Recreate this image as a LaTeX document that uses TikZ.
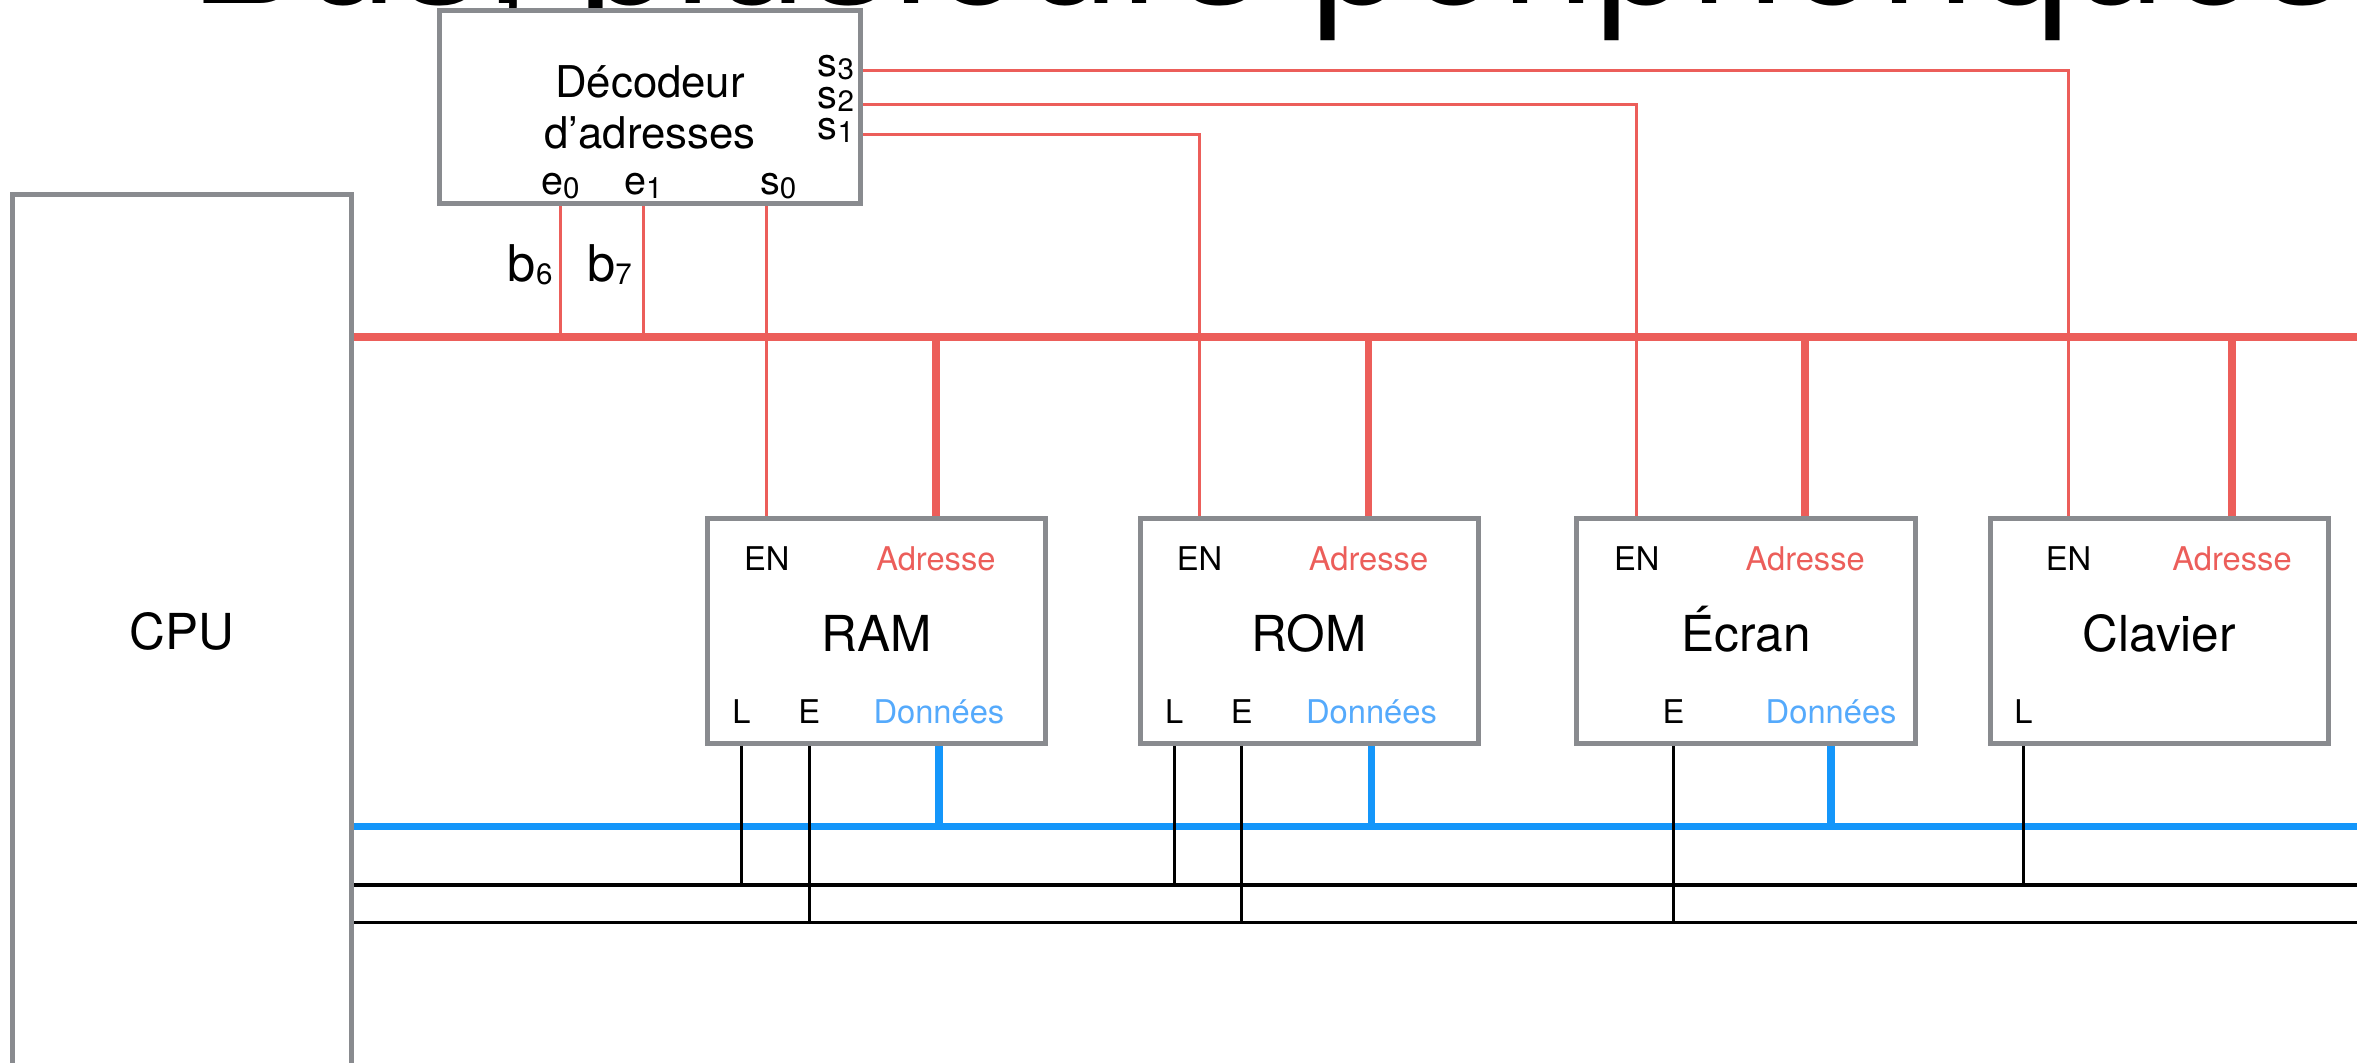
\documentclass[tikz,border=0pt]{standalone}
\usepackage{fontspec}
\setmainfont{TeX Gyre Heros}
\usetikzlibrary{calc,positioning}
\definecolor{boxgray}{RGB}{137,139,143}
\definecolor{busred}{RGB}{236,94,90}
\definecolor{busblue}{RGB}{20,150,250}
\definecolor{txtblue}{RGB}{85,170,252}
\newcommand{\ix}[1]{\raisebox{-0.6pt}{\fontsize{5.6}{6}\selectfont#1}}
\tikzset{
	frame/.style={draw=boxgray, fill=white, line width=0.95pt, inner sep=0pt},
	periph/.style={frame, minimum width=2.257cm, minimum height=1.496cm,
		text height=7.7pt, text depth=0pt, font=\fontsize{9.4}{11}\selectfont},
	cpubox/.style={frame, minimum width=2.26cm, minimum height=5.82cm,
		text height=6.8pt, text depth=0pt, font=\fontsize{9.4}{11}\selectfont},
	deco/.style={frame, minimum width=2.809cm, minimum height=1.289cm, align=center,
		font=\fontsize{8.3}{9.8}\selectfont},
	small/.style={inner sep=0pt, anchor=base, font=\fontsize{6.2}{7}\selectfont},
	io/.style={inner sep=0pt, text height=4pt, text depth=1pt, font=\fontsize{7.5}{8}\selectfont},
	bit/.style={inner sep=0pt, anchor=base east, font=\fontsize{9.6}{11}\selectfont},
	title/.style={inner sep=0pt, anchor=base west, font=\fontsize{32.4}{38}\selectfont},
	addr/.style={draw=busred, line width=1.5pt},
	data/.style={draw=busblue, line width=1.5pt},
	sel/.style={draw=busred, line width=0.55pt},
	ctrl/.style={draw=black, line width=0.6pt},
}

\begin{document}
\begin{tikzpicture}
	\useasboundingbox (0,0) rectangle (15.713,7.08);
	\clip (0,0) rectangle (15.713,7.08);

	% title, cut by the top edge
	\node[title] (title) at (1.26,7.058) {Bus, plusieurs périphériques};

	% boxes
	\node[cpubox] (cpu) at (1.214,2.87) {CPU};
	\node[deco] (dec) at (4.3335,6.3645) {Décodeur\\d’adresses};
	\node[periph] (ram) at (5.8445,2.872) {RAM};
	\node[periph] (rom) at (8.7285,2.872) {ROM};
	\node[periph] (ecran) at (11.6395,2.872) {Écran};
	\node[periph] (clavier) at (14.395,2.872) {Clavier};

	% decoder pins
	\node[io, anchor=base] (e0) at (3.736,5.78) {e\ix{0}};
	\node[io, anchor=base] (e1) at (4.288,5.78) {e\ix{1}};
	\node[io, anchor=base] (s0) at (5.188,5.78) {s\ix{0}};
	\node[io, anchor=base east] (s3) at (5.70,6.568) {s\ix{3}};
	\node[io, anchor=base east] (s2) at (5.70,6.358) {s\ix{2}};
	\node[io, anchor=base east] (s1) at (5.70,6.150) {s\ix{1}};
	\node[bit] (b6) at (3.69,5.202) {b\ix{6}};
	\node[bit] (b7) at (4.218,5.202) {b\ix{7}};

	% RAM pins
	\node[small] (ram-en) at ($(ram.north west)+(0.413,-0.358)$) {EN};
	\node[small, text=busred] (ram-adr) at ($(ram.north west)+(1.54,-0.358)$) {Adresse};
	\node[small] (ram-l) at ($(ram.south west)+(0.244,0.152)$) {L};
	\node[small] (ram-e) at ($(ram.south west)+(0.695,0.152)$) {E};
	\node[small, text=txtblue] (ram-d) at ($(ram.south west)+(1.56,0.152)$) {Données};

	% ROM pins
	\node[small] (rom-en) at ($(rom.north west)+(0.413,-0.358)$) {EN};
	\node[small, text=busred] (rom-adr) at ($(rom.north west)+(1.54,-0.358)$) {Adresse};
	\node[small] (rom-l) at ($(rom.south west)+(0.244,0.152)$) {L};
	\node[small] (rom-e) at ($(rom.south west)+(0.695,0.152)$) {E};
	\node[small, text=txtblue] (rom-d) at ($(rom.south west)+(1.56,0.152)$) {Données};

	% Ecran pins
	\node[small] (ecran-en) at ($(ecran.north west)+(0.418,-0.358)$) {EN};
	\node[small, text=busred] (ecran-adr) at ($(ecran.north west)+(1.54,-0.358)$) {Adresse};
	\node[small] (ecran-e) at ($(ecran.south west)+(0.662,0.152)$) {E};
	\node[small, text=txtblue] (ecran-d) at ($(ecran.south west)+(1.713,0.152)$) {Données};

	% Clavier pins
	\node[small] (clavier-en) at ($(clavier.north west)+(0.54,-0.358)$) {EN};
	\node[small, text=busred] (clavier-adr) at ($(clavier.north west)+(1.63,-0.358)$) {Adresse};
	\node[small] (clavier-l) at ($(clavier.south west)+(0.24,0.152)$) {L};

	% bus ends and decoder outputs
	\coordinate (abus) at (15.9,4.836);
	\coordinate (dbus) at (15.9,1.57);
	\coordinate (lbus) at (15.9,1.18);
	\coordinate (ebus) at (15.9,0.93);
	\coordinate (o3) at ($(dec.north east)+(0,-0.413)$);
	\coordinate (o2) at ($(dec.north east)+(0,-0.645)$);
	\coordinate (o1) at ($(dec.north east)+(0,-0.840)$);

	% select lines
	\draw[sel] (dec.south -| e0) -- (e0 |- abus);
	\draw[sel] (dec.south -| e1) -- (e1 |- abus);
	\draw[sel] (dec.south -| ram-en) -- (ram.north -| ram-en);
	\draw[sel] (o1) -| (rom.north -| rom-en);
	\draw[sel] (o2) -| (ecran.north -| ecran-en);
	\draw[sel] (o3) -| (clavier.north -| clavier-en);

	% buses
	\draw[addr] (cpu.east |- abus) -- (abus);
	\draw[data] (cpu.east |- dbus) -- (dbus);
	\draw[ctrl] (cpu.east |- lbus) -- (lbus);
	\draw[ctrl] (cpu.east |- ebus) -- (ebus);

	\foreach \m in {ram,rom,ecran,clavier}
		\draw[addr] (\m-adr |- abus) -- (\m-adr |- \m.north);
	\foreach \m in {ram,rom,ecran}
		\draw[data] (\m-d |- \m.south) -- (\m-d |- dbus);
	\foreach \m in {ram,rom,clavier}
		\draw[ctrl] (\m-l |- \m.south) -- (\m-l |- lbus);
	\foreach \m in {ram,rom,ecran}
		\draw[ctrl] (\m-e |- \m.south) -- (\m-e |- ebus);
\end{tikzpicture}
\end{document}
